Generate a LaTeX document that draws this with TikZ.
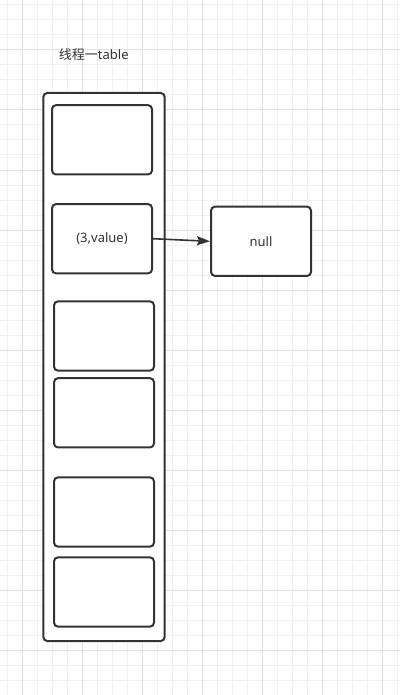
\documentclass[tikz,border=0pt]{standalone}
\usepackage{fontspec}
\setmainfont{Noto Sans}
\newfontfamily\cjk{Noto Sans CJK SC}
\usetikzlibrary{arrows.meta}
\definecolor{ink}{HTML}{333333}
\definecolor{gridminor}{HTML}{F0F0F0}
\definecolor{gridmajor}{HTML}{E2E2E2}
\tikzset{
  cell/.style={draw=ink, line width=2pt, rounded corners=4pt, minimum width=100pt, minimum height=69.3pt, inner sep=0pt, fill=white, text=ink, font=\fontsize{13pt}{15pt}\selectfont},
  outerbox/.style={draw=ink, line width=2pt, rounded corners=4pt, minimum width=121.4pt, minimum height=548pt, inner sep=0pt, fill=white},
  link/.style={draw=ink, line width=1.6pt, -{Stealth[length=13pt,width=9pt,inset=2pt]}},
  caption/.style={text=ink, inner sep=0pt, font=\fontsize{13pt}{15pt}\selectfont}
}
\begin{document}
\begin{tikzpicture}[x=1pt,y=-1pt]
  \useasboundingbox (0,0) rectangle (400,695);
  \fill[white] (0,0) rectangle (400,695);
  % grid
  \foreach \gx in {7,22,...,397} \draw[gridminor, line width=1pt] (\gx,0) -- (\gx,695);
  \foreach \gy in {5,20,...,695} \draw[gridminor, line width=1pt] (0,\gy) -- (400,\gy);
  \foreach \gx in {22,82,...,382} \draw[gridmajor, line width=1pt] (\gx,0) -- (\gx,695);
  \foreach \gy in {50,110,...,650} \draw[gridmajor, line width=1pt] (0,\gy) -- (400,\gy);
  % label
  \node[caption] (title) at (93.8,55) {{\cjk 线程一}table};
  % table
  \node[outerbox] (table) at (104,367) {};
  \node[cell] (b1) at (102,139.8) {};
  \node[cell] (b2) at (102,238.7) {(3,value)};
  \node[cell] (b3) at (104,336) {};
  \node[cell] (b4) at (104,412.8) {};
  \node[cell] (b5) at (104,512) {};
  \node[cell] (b6) at (104,592) {};
  \node[cell] (null) at (261,241.3) {null};
  \draw[link] (b2.east) -- (null.west);
\end{tikzpicture}
\end{document}
